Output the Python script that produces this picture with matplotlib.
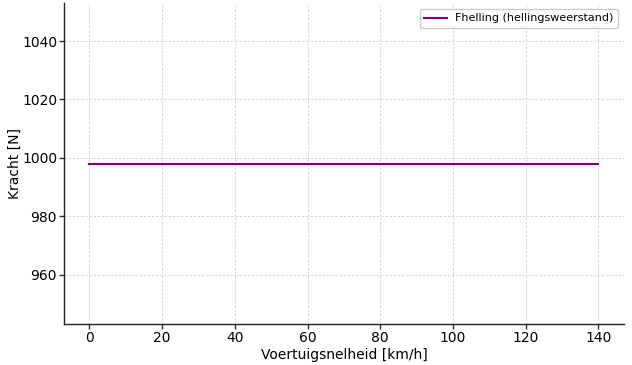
import matplotlib
matplotlib.use('Agg')
import matplotlib.pyplot as plt
import numpy as np

# Data
speed_kmh = [0, 140]
f_helling = [998, 998]

fig = plt.figure(figsize=(6.32, 3.65), dpi=100)
ax = fig.add_axes([0.1013, 0.1123, 0.8857, 0.8784])

ax.plot(speed_kmh, f_helling, color='purple', linewidth=1.5,
        label='Fhelling (hellingsweerstand)')

ax.set_xlabel('Voertuigsnelheid [km/h]', fontsize=10, labelpad=2)
ax.set_ylabel('Kracht [N]', fontsize=10, labelpad=0)
ax.set_xticks(np.arange(0, 141, 20))
ax.set_yticks(np.arange(960, 1041, 20))
ax.tick_params(labelsize=10, length=3.5, width=1, pad=1.5, color='#333333')

ax.grid(True, linestyle=(0, (3, 2)), linewidth=0.6, color='#d0d0d0')
for s in ['top', 'right']:
    ax.spines[s].set_visible(False)
for s in ['left', 'bottom']:
    ax.spines[s].set_color('#222222')
    ax.spines[s].set_linewidth(1.0)

ax.legend(loc='upper right', fontsize=8, framealpha=1.0, edgecolor='#cccccc')

fig.savefig('out.png', dpi=100)
